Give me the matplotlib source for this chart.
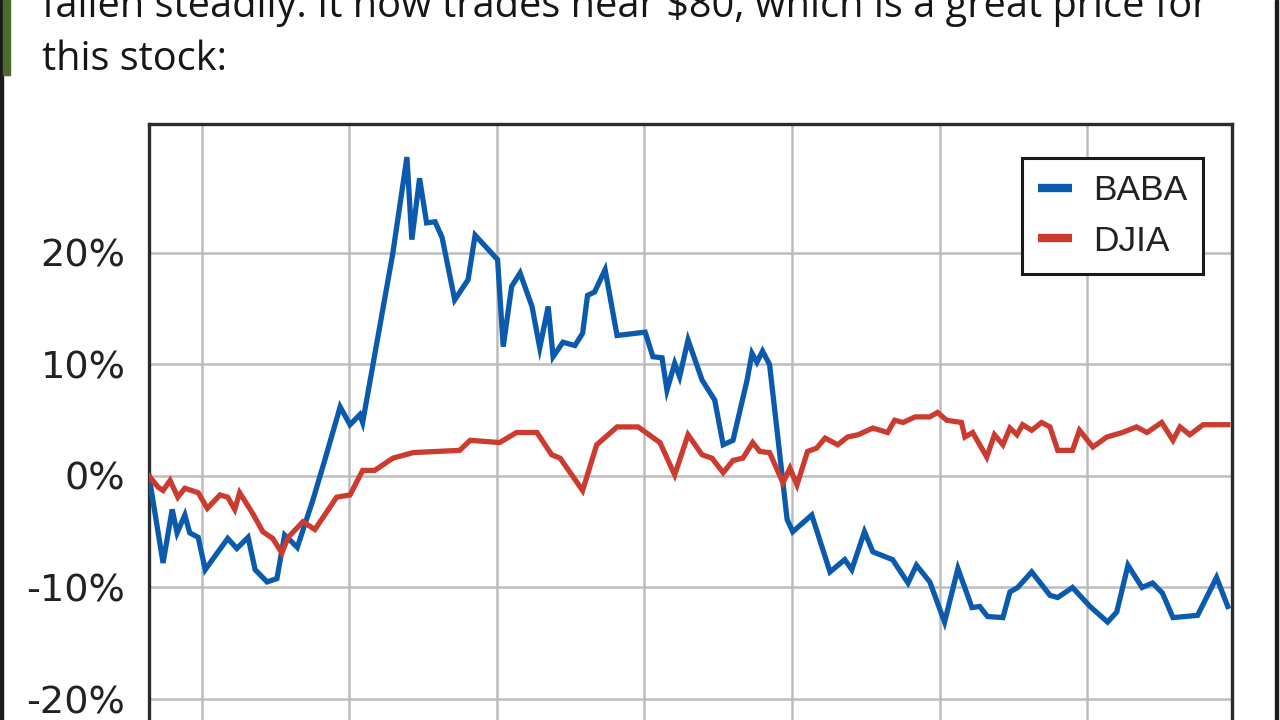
import matplotlib
matplotlib.use("Agg")
import matplotlib.pyplot as plt
from matplotlib.lines import Line2D
import numpy as np

# trading days since start, % change
baba_days = [0.0, 2.0, 3.3, 4.0, 5.1, 5.8, 7.0, 8.0, 11.2, 12.5, 14.1, 15.1, 16.8, 18.2,
             19.3, 20.3, 21.1, 23.3, 25.0, 27.2, 28.6, 30.0, 30.4, 34.7, 36.7, 37.4, 38.5,
             39.5, 40.7, 41.7, 43.5, 45.4, 46.4, 49.6, 50.4, 51.6, 52.8, 54.5, 55.6, 56.8,
             57.5, 58.9, 60.6, 61.7, 62.4, 63.4, 64.9, 66.6, 70.6, 71.7, 73.0, 73.7, 74.8,
             75.5, 76.7, 78.7, 80.5, 81.7, 83.1, 85.1, 85.8, 86.5, 87.3, 88.3, 90.8, 91.6,
             94.3, 96.9, 99.0, 100.0, 101.8, 103.0, 105.8, 108.0, 109.2, 111.1, 113.2,
             115.1, 117.1, 118.2, 119.3, 121.5, 122.5, 123.6, 125.6, 128.2, 129.3, 131.4,
             133.9, 136.4, 137.7, 139.3, 141.3, 142.8, 144.2, 145.7, 149.2, 151.9, 153.5]
baba_pct = [0.0, -7.8, -3.0, -5.1, -3.5, -5.1, -5.5, -8.4, -5.6, -6.5, -5.5, -8.4, -9.5, -9.2,
            -5.3, -5.9, -6.4, -2.2, 1.4, 6.2, 4.6, 5.5, 4.8, 20.0, 28.6, 21.2, 26.7,
            22.7, 22.8, 21.4, 15.8, 17.6, 21.6, 19.4, 11.6, 17.0, 18.2, 15.2, 11.5, 15.2,
            10.7, 12.0, 11.7, 12.8, 16.2, 16.5, 18.5, 12.6, 12.9, 10.7, 10.6, 7.7, 10.1,
            8.9, 12.2, 8.6, 6.8, 2.8, 3.2, 8.6, 11.0, 10.2, 11.2, 10.0, -3.9, -5.0,
            -3.5, -8.6, -7.5, -8.4, -5.0, -6.8, -7.5, -9.6, -8.0, -9.5, -13.1,
            -8.3, -11.8, -11.7, -12.6, -12.7, -10.4, -10.0, -8.6, -10.7, -10.9, -10.0,
            -11.7, -13.1, -12.2, -8.0, -10.0, -9.6, -10.5, -12.7, -12.5, -9.1, -11.7]

djia_days = [0.0, 1.3, 2.0, 3.0, 4.1, 5.1, 7.0, 8.3, 10.1, 11.2, 12.2, 12.9, 14.7, 16.2,
             17.6, 18.9, 19.8, 21.9, 23.6, 26.7, 28.6, 30.4, 32.1, 34.7, 37.6, 44.2, 45.7,
             49.9, 52.3, 55.2, 57.3, 58.5, 61.7, 63.7, 66.6, 69.6, 72.7, 74.8, 76.7, 78.7,
             80.1, 81.7, 83.1, 84.5, 85.9, 86.9, 88.3, 90.2, 91.2, 92.2, 93.7, 95.0, 96.2,
             98.0, 99.4, 100.9, 103.0, 105.1, 106.1, 107.3, 109.0, 111.1, 112.2, 113.5,
             115.6, 116.1, 117.2, 119.2, 120.3, 121.5, 122.5, 123.5, 124.3, 125.6, 127.0,
             128.2, 129.3, 131.4, 132.4, 134.3, 136.3, 138.5, 140.5, 142.0, 144.1, 145.7,
             146.7, 148.1, 150.0, 153.5]
djia_pct = [0.0, -1.0, -1.3, -0.4, -1.9, -1.1, -1.5, -2.9, -1.7, -1.9, -3.0, -1.5, -3.3, -5.0,
            -5.6, -6.9, -5.5, -4.1, -4.8, -1.9, -1.7, 0.5, 0.5, 1.6, 2.1, 2.3, 3.2,
            3.0, 3.9, 3.9, 1.9, 1.6, -1.3, 2.8, 4.4, 4.4, 3.0, 0.1, 3.7, 1.9,
            1.6, 0.3, 1.4, 1.6, 3.0, 2.2, 2.1, -0.6, 0.7, -0.8, 2.2, 2.5, 3.4,
            2.8, 3.5, 3.7, 4.3, 3.9, 5.0, 4.8, 5.3, 5.3, 5.7, 5.0,
            4.8, 3.5, 3.9, 1.7, 3.7, 2.8, 4.3, 3.7, 4.6, 4.1, 4.8,
            4.4, 2.3, 2.3, 4.1, 2.6, 3.5, 3.9, 4.4, 3.9, 4.8, 3.2,
            4.4, 3.7, 4.6, 4.6]

y_ticks = [-20, -10, 0, 10, 20]
y_labels = ["-20%", "-10%", "0%", "10%", "20%"]

blue = "#0b5aad"
red = "#cc3b2f"

fig = plt.figure(figsize=(12.8, 7.2), dpi=100)

# page bits around the chart
fig.add_artist(plt.Rectangle((0, 0), 3 / 1280, 1, transform=fig.transFigure, color="#1a1a1a"))
fig.add_artist(plt.Rectangle((1275 / 1280, 0), 3 / 1280, 1, transform=fig.transFigure, color="#1a1a1a"))
fig.add_artist(plt.Rectangle((3 / 1280, 1 - 75 / 720), 7 / 1280, 75 / 720,
                             transform=fig.transFigure, color="#4b6a2b"))
fig.text(42 / 1280, 1 - 17 / 720, "fallen steadily. It now trades near $80, which is a great price for",
         fontsize=28.6, family="Open Sans", color="#161616", va="baseline")
fig.text(42 / 1280, 1 - 70 / 720, "this stock:",
         fontsize=28.6, family="Open Sans", color="#161616", va="baseline")

ax = fig.add_axes([149 / 1280, -0.1257, (1232 - 149) / 1280, 0.9535])
ax.plot(baba_days, baba_pct, color=blue, lw=3.8, solid_joinstyle="miter", zorder=3)
ax.plot(djia_days, djia_pct, color=red, lw=3.8, solid_joinstyle="miter", zorder=3)

ax.set_xlim(0, 154.1)
ax.set_ylim(-30, 31.57)
ax.set_xticks(np.arange(7.5, 154, 21))
ax.set_xticklabels([])
ax.set_yticks(y_ticks)
ax.set_yticklabels(y_labels, fontsize=27.5, color="#222222")
ax.tick_params(length=0, pad=17)
ax.grid(True, color="#bdbdbd", lw=1.8)
ax.set_axisbelow(True)
for s in ax.spines.values():
    s.set_color("#2b2b2b")
    s.set_linewidth(2.4)

handles = [Line2D([], [], color=blue, lw=6, solid_capstyle="butt"),
           Line2D([], [], color=red, lw=6, solid_capstyle="butt")]
leg = ax.legend(handles, ["BABA", "DJIA"], loc="upper right",
                bbox_to_anchor=(1203 / 1280, 1 - 158 / 720), bbox_transform=fig.transFigure,
                borderaxespad=0, fancybox=False, framealpha=1, edgecolor="#1a1a1a",
                prop={"family": "Liberation Sans", "size": 25.5}, handlelength=0.95,
                handletextpad=0.6, labelspacing=0.5, borderpad=0.45)
leg.get_frame().set_linewidth(2.2)
for t in leg.get_texts():
    t.set_color("#222222")

fig.savefig("out.png", dpi=100)
